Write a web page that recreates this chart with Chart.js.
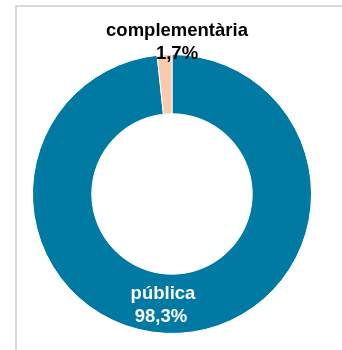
<!DOCTYPE html>
<html>
<head>
<meta charset="utf-8">
<script src="https://cdn.jsdelivr.net/npm/chart.js@4"></script>
<style>
  html, body { margin: 0; padding: 0; background: #fff; }
  #wrap { position: relative; width: 342px; height: 350px; overflow: hidden; }
  #frame {
    position: absolute; left: 15px; top: 5px; right: -10px; bottom: -10px;
    border-left: 2px solid #d9d9d9; border-top: 2px solid #d9d9d9;
  }
  canvas { position: absolute; left: 0; top: 0; }
</style>
</head>
<body>
<div id="wrap">
  <div id="frame"></div>
  <canvas id="myChart" width="342" height="350"></canvas>
</div>
<script>
// ── Data ─────────────────────────────────────
const categories = ['pública', 'complementària'];
const shares     = [98.3, 1.7];
const pctLabels  = ['98,3%', '1,7%'];
const colors     = ['#0079a3', '#f8cbad'];
const textColors = ['#ffffff', '#000000'];

// ── Labels drawn next to each slice ──────────
const sliceLabels = {
  id: 'sliceLabels',
  afterDatasetsDraw(chart) {
    const ctx  = chart.ctx;
    const meta = chart.getDatasetMeta(0);
    ctx.save();
    ctx.font = 'bold 18.5px "Liberation Sans", Arial, sans-serif';
    ctx.textAlign = 'center';
    ctx.textBaseline = 'alphabetic';
    meta.data.forEach((arc, i) => {
      const p = arc.getProps(['x', 'y', 'innerRadius', 'outerRadius'], true);
      let x, y;
      if (i === 0) {
        // inside the ring, near the bottom
        x = p.x - 9;
        y = p.y + (p.innerRadius + p.outerRadius) / 2 - 4.5;
      } else {
        // straddling the ring top
        x = p.x + 5;
        y = p.y - p.outerRadius - 18.5;
      }
      ctx.fillStyle = textColors[i];
      ctx.fillText(categories[i], x, y);
      ctx.fillText(pctLabels[i], x - (i === 0 ? 2 : 0), y + 22.5);
    });
    ctx.restore();
  }
};

new Chart(document.getElementById('myChart').getContext('2d'), {
  type: 'doughnut',
  data: {
    labels: categories,
    datasets: [{
      data: shares,
      backgroundColor: colors,
      borderColor: '#ffffff',
      borderWidth: 1
    }]
  },
  options: {
    responsive: false,
    animation: false,
    cutout: '57.5%',
    layout: { padding: { left: 32, right: 30, top: 54, bottom: 16 } },
    plugins: {
      legend: { display: false },
      tooltip: { enabled: false }
    }
  },
  plugins: [sliceLabels]
});
</script>
</body>
</html>
